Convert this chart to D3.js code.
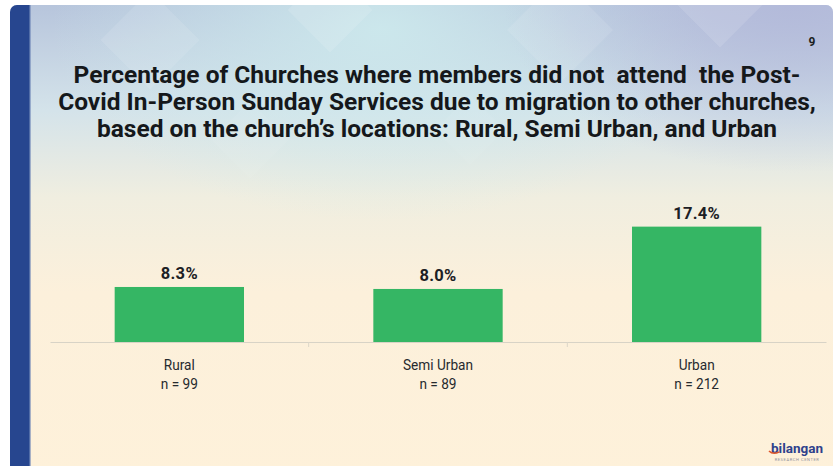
<!DOCTYPE html>
<html>
<head>
<meta charset="utf-8">
<script src="https://d3js.org/d3.v7.min.js"></script>
<style>
  body { margin: 0; background: #ffffff; }
  svg { display: block; }
</style>
</head>
<body>
<script>

// chart data
var categories = ["Rural", "Semi Urban", "Urban"];
var sampleSizes = ["n = 99", "n = 89", "n = 212"];
var percentages = [8.3, 8.0, 17.4];
var titleLines = [
  "Percentage of Churches where members did not  attend  the Post-",
  "Covid In-Person Sunday Services due to migration to other churches,",
  "based on the church\u2019s locations: Rural, Semi Urban, and Urban"
];
var pageNumber = "9";

var data = categories.map(function(c, i) {
  return { cat: c, n: sampleSizes[i], pct: percentages[i] };
});

var W = 838, H = 466;

var svg = d3.select("body").append("svg")
    .attr("width", W)
    .attr("height", H);

var defs = svg.append("defs");

// slide background: blue-grey top fading to cream
var bg = defs.append("linearGradient")
    .attr("id", "bg").attr("x1", 0).attr("y1", 0).attr("x2", 0).attr("y2", 1);
bg.append("stop").attr("offset", "0%").attr("stop-color", "#b7c5dc");
bg.append("stop").attr("offset", "22%").attr("stop-color", "#d4e3ea");
bg.append("stop").attr("offset", "40%").attr("stop-color", "#f0eee0");
bg.append("stop").attr("offset", "60%").attr("stop-color", "#fcf0db");
bg.append("stop").attr("offset", "100%").attr("stop-color", "#fef1da");

var glow = defs.append("radialGradient")
    .attr("id", "glow").attr("cx", "45%").attr("cy", "5%").attr("r", "40%");
glow.append("stop").attr("offset", "0%").attr("stop-color", "#cdeaed").attr("stop-opacity", 0.9);
glow.append("stop").attr("offset", "100%").attr("stop-color", "#cdeaed").attr("stop-opacity", 0);

var lav = defs.append("radialGradient")
    .attr("id", "lav").attr("cx", "95%").attr("cy", "0%").attr("r", "35%");
lav.append("stop").attr("offset", "0%").attr("stop-color", "#b3b9da").attr("stop-opacity", 0.9);
lav.append("stop").attr("offset", "100%").attr("stop-color", "#b3b9da").attr("stop-opacity", 0);

var clip = defs.append("clipPath").attr("id", "slideClip");
clip.append("rect").attr("x", 10).attr("y", 5).attr("width", 823).attr("height", 480).attr("rx", 7);

var slide = svg.append("g").attr("clip-path", "url(#slideClip)");

slide.append("rect")
    .attr("x", 10).attr("y", 5).attr("width", 823).attr("height", 480)
    .attr("fill", "url(#bg)");
slide.append("rect")
    .attr("x", 10).attr("y", 5).attr("width", 823).attr("height", 480)
    .attr("fill", "url(#glow)");
slide.append("rect")
    .attr("x", 10).attr("y", 5).attr("width", 823).attr("height", 480)
    .attr("fill", "url(#lav)");

// faint decorative diamonds
var diamonds = [[150, 40, 70, 0.10], [330, 10, 60, 0.12], [560, 30, 75, 0.10], [720, 5, 60, 0.12], [250, 140, 55, 0.06], [470, 130, 50, 0.05]];
slide.selectAll(".dia").data(diamonds).enter().append("rect")
    .attr("class", "dia")
    .attr("x", function(d) { return -d[2] / 2; })
    .attr("y", function(d) { return -d[2] / 2; })
    .attr("width", function(d) { return d[2]; })
    .attr("height", function(d) { return d[2]; })
    .attr("transform", function(d) { return "translate(" + d[0] + "," + d[1] + ") rotate(45)"; })
    .attr("fill", "#ffffff")
    .attr("opacity", function(d) { return d[3]; });

// left blue stripe
slide.append("rect")
    .attr("x", 10).attr("y", 5).attr("width", 20).attr("height", 480)
    .attr("fill", "#27468f");
slide.append("rect")
    .attr("x", 29).attr("y", 5).attr("width", 2).attr("height", 480)
    .attr("fill", "#6f87b8").attr("opacity", 0.6);

// page number
svg.append("text")
    .attr("x", 812).attr("y", 46)
    .attr("text-anchor", "middle")
    .style("font-family", "Roboto, 'DejaVu Sans', sans-serif")
    .style("font-weight", "700")
    .style("font-size", "12px")
    .attr("fill", "#1c1f22")
    .text(pageNumber);

// title
var title = svg.append("g")
    .style("font-family", "Roboto, 'Liberation Sans', sans-serif")
    .style("font-weight", "700")
    .style("font-size", "22px")
    .attr("fill", "#15181b");

var tl = title.selectAll("text").data(titleLines).enter().append("text")
    .attr("x", 437)
    .attr("y", function(d, i) { return 83 + i * 27; })
    .attr("text-anchor", "middle")
    .style("white-space", "pre")
    .attr("xml:space", "preserve")
    .text(function(d) { return d; });

// fit the widest line to the reference width
var widest = d3.max(tl.nodes(), function(n) { return n.getComputedTextLength(); });
var fs = 22 * 758 / widest;
title.style("font-size", fs.toFixed(2) + "px");

// scales
var x = d3.scaleBand()
    .domain(categories)
    .range([50, 826])
    .paddingInner(0.5)
    .paddingOuter(0.25);

var y = d3.scaleLinear()
    .domain([0, 20])
    .range([342, 209.4]);

// baseline axis
var axis = svg.append("g")
    .attr("transform", "translate(0," + y(0) + ")")
    .call(d3.axisBottom(x).tickSize(0).tickSizeOuter(0).tickFormat(""));
axis.select(".domain").attr("stroke", "#d8d3c6").attr("stroke-width", 1.2);

// faint separators between categories
svg.selectAll(".sep").data(categories.slice(1)).enter().append("line")
    .attr("class", "sep")
    .attr("x1", function(d) { return x(d) - x.step() * x.paddingInner() / 2; })
    .attr("x2", function(d) { return x(d) - x.step() * x.paddingInner() / 2; })
    .attr("y1", y(0)).attr("y2", y(0) + 5)
    .attr("stroke", "#dcd6c8");

// bars
svg.selectAll(".bar").data(data).enter().append("rect")
    .attr("class", "bar")
    .attr("x", function(d) { return x(d.cat); })
    .attr("width", x.bandwidth())
    .attr("y", function(d) { return y(d.pct); })
    .attr("height", function(d) { return y(0) - y(d.pct); })
    .attr("fill", "#35b664");

// value labels
svg.selectAll(".val").data(data).enter().append("text")
    .attr("class", "val")
    .attr("x", function(d) { return x(d.cat) + x.bandwidth() / 2; })
    .attr("y", function(d) { return y(d.pct) - 8; })
    .attr("text-anchor", "middle")
    .style("font-family", "Roboto, 'DejaVu Sans', sans-serif")
    .style("font-weight", "700")
    .style("font-size", "16.5px")
    .style("letter-spacing", "0.3px")
    .attr("fill", "#1c2024")
    .text(function(d) { return d.pct.toFixed(1) + "%"; });

// category labels (slightly condensed)
var sx = 0.88;
var cl = svg.selectAll(".cat").data(data).enter().append("text")
    .attr("class", "cat")
    .attr("transform", "scale(" + sx + ",1)")
    .attr("text-anchor", "middle")
    .style("font-family", "Roboto, sans-serif")
    .style("font-size", "15.5px")
    .attr("fill", "#262a2e");
cl.append("tspan")
    .attr("x", function(d) { return (x(d.cat) + x.bandwidth() / 2) / sx; })
    .attr("y", 370)
    .text(function(d) { return d.cat; });
cl.append("tspan")
    .attr("x", function(d) { return (x(d.cat) + x.bandwidth() / 2) / sx; })
    .attr("y", 389)
    .text(function(d) { return d.n; });

// logo
var logo = svg.append("g");
logo.append("text")
    .attr("x", 797).attr("y", 453)
    .attr("text-anchor", "middle")
    .style("font-family", "Roboto, 'DejaVu Sans', sans-serif")
    .style("font-weight", "700")
    .style("font-size", "13.5px")
    .attr("fill", "#2e418c")
    .text("bilangan");
logo.append("text")
    .attr("x", 797).attr("y", 461)
    .attr("text-anchor", "middle")
    .style("font-family", "Roboto, 'DejaVu Sans', sans-serif")
    .style("font-size", "4px")
    .style("letter-spacing", "0.6px")
    .attr("fill", "#8f8f9a")
    .text("RESEARCH CENTER");
logo.append("path")
    .attr("d", "M769,451 q4,4 10,1")
    .attr("fill", "none")
    .attr("stroke", "#e0572a")
    .attr("stroke-width", 1.6);

</script>
</body>
</html>
